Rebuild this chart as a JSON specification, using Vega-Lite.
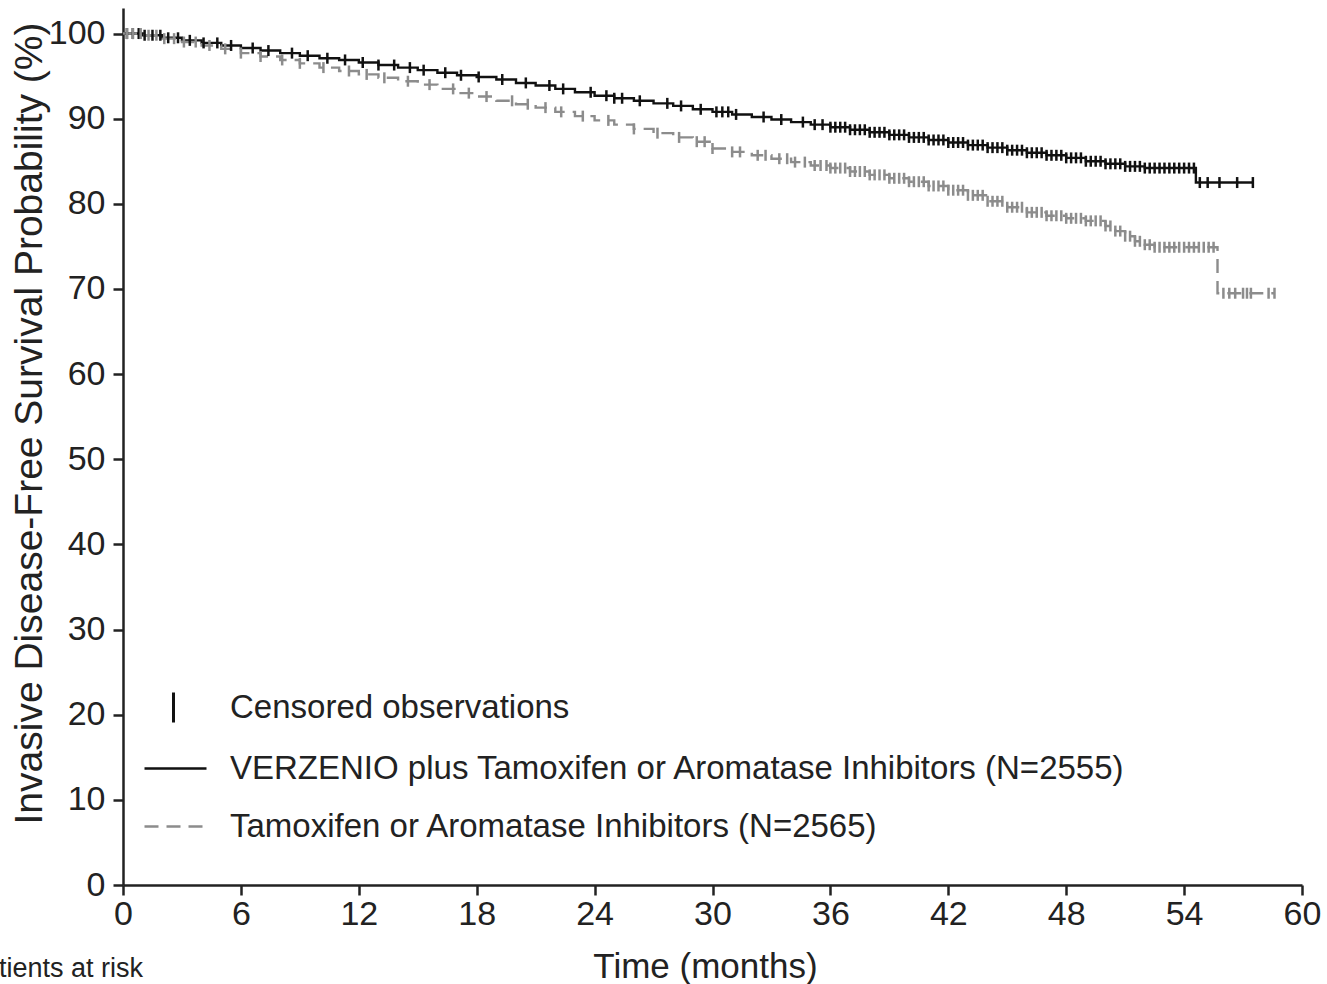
{
  "$schema": "https://vega.github.io/schema/vega-lite/v6.json",
  "width": 1179,
  "height": 877,
  "autosize": {"type": "none"},
  "padding": {"left": 123, "top": 8, "right": 25, "bottom": 99},
  "background": "white",
  "config": {
    "font": "Liberation Sans",
    "view": {"stroke": null},
    "axis": {
      "grid": false,
      "domainColor": "#222222",
      "domainWidth": 2.5,
      "tickColor": "#222222",
      "tickWidth": 2.5,
      "tickSize": 10,
      "labelColor": "#222222",
      "labelFontSize": 34,
      "labelOverlap": false,
      "labelFlush": false,
      "titleColor": "#222222",
      "titleFontWeight": "normal"
    }
  },
  "title": {
    "text": "Patients at risk",
    "orient": "bottom",
    "anchor": "start",
    "frame": "group",
    "dx": -157,
    "offset": -28,
    "fontSize": 27,
    "fontWeight": "normal",
    "color": "#222222"
  },
  "datasets": {
    "curve": [
      {"g": "A", "t": 0, "s": 100}, {"g": "A", "t": 1, "s": 99.8}, {"g": "A", "t": 2, "s": 99.5}, {"g": "A", "t": 3, "s": 99.2},
      {"g": "A", "t": 4, "s": 98.9}, {"g": "A", "t": 5, "s": 98.6}, {"g": "A", "t": 6, "s": 98.3}, {"g": "A", "t": 7, "s": 98.0},
      {"g": "A", "t": 8, "s": 97.7}, {"g": "A", "t": 9, "s": 97.4}, {"g": "A", "t": 10, "s": 97.1}, {"g": "A", "t": 11, "s": 96.9},
      {"g": "A", "t": 12, "s": 96.6}, {"g": "A", "t": 13, "s": 96.3}, {"g": "A", "t": 14, "s": 96.0}, {"g": "A", "t": 15, "s": 95.7},
      {"g": "A", "t": 16, "s": 95.4}, {"g": "A", "t": 17, "s": 95.1}, {"g": "A", "t": 18, "s": 94.9}, {"g": "A", "t": 19, "s": 94.6},
      {"g": "A", "t": 20, "s": 94.2}, {"g": "A", "t": 21, "s": 93.9}, {"g": "A", "t": 22, "s": 93.5}, {"g": "A", "t": 23, "s": 93.1},
      {"g": "A", "t": 24, "s": 92.7}, {"g": "A", "t": 25, "s": 92.4}, {"g": "A", "t": 26, "s": 92.1}, {"g": "A", "t": 27, "s": 91.8},
      {"g": "A", "t": 28, "s": 91.5}, {"g": "A", "t": 29, "s": 91.1}, {"g": "A", "t": 30, "s": 90.8}, {"g": "A", "t": 31, "s": 90.5},
      {"g": "A", "t": 32, "s": 90.2}, {"g": "A", "t": 33, "s": 89.9}, {"g": "A", "t": 34, "s": 89.6}, {"g": "A", "t": 35, "s": 89.3},
      {"g": "A", "t": 36, "s": 89.0}, {"g": "A", "t": 37, "s": 88.7}, {"g": "A", "t": 38, "s": 88.4}, {"g": "A", "t": 39, "s": 88.1},
      {"g": "A", "t": 40, "s": 87.8}, {"g": "A", "t": 41, "s": 87.5}, {"g": "A", "t": 42, "s": 87.2}, {"g": "A", "t": 43, "s": 86.9},
      {"g": "A", "t": 44, "s": 86.6}, {"g": "A", "t": 45, "s": 86.3}, {"g": "A", "t": 46, "s": 86.0}, {"g": "A", "t": 47, "s": 85.7},
      {"g": "A", "t": 48, "s": 85.4}, {"g": "A", "t": 49, "s": 85.0}, {"g": "A", "t": 50, "s": 84.7}, {"g": "A", "t": 51, "s": 84.4},
      {"g": "A", "t": 52, "s": 84.2}, {"g": "A", "t": 54.6, "s": 82.5}, {"g": "A", "t": 57.5, "s": 82.5},
      {"g": "B", "t": 0, "s": 100}, {"g": "B", "t": 1, "s": 99.8}, {"g": "B", "t": 2, "s": 99.4}, {"g": "B", "t": 3, "s": 99.0},
      {"g": "B", "t": 4, "s": 98.6}, {"g": "B", "t": 5, "s": 98.2}, {"g": "B", "t": 6, "s": 97.7}, {"g": "B", "t": 7, "s": 97.3},
      {"g": "B", "t": 8, "s": 96.9}, {"g": "B", "t": 9, "s": 96.5}, {"g": "B", "t": 10, "s": 96.0}, {"g": "B", "t": 11, "s": 95.6},
      {"g": "B", "t": 12, "s": 95.2}, {"g": "B", "t": 13, "s": 94.8}, {"g": "B", "t": 14, "s": 94.4}, {"g": "B", "t": 15, "s": 94.0},
      {"g": "B", "t": 16, "s": 93.5}, {"g": "B", "t": 17, "s": 93.0}, {"g": "B", "t": 18, "s": 92.6}, {"g": "B", "t": 19, "s": 92.1},
      {"g": "B", "t": 20, "s": 91.7}, {"g": "B", "t": 21, "s": 91.3}, {"g": "B", "t": 22, "s": 90.8}, {"g": "B", "t": 23, "s": 90.3},
      {"g": "B", "t": 24, "s": 89.8}, {"g": "B", "t": 25, "s": 89.3}, {"g": "B", "t": 26, "s": 88.8}, {"g": "B", "t": 27, "s": 88.3},
      {"g": "B", "t": 28, "s": 87.8}, {"g": "B", "t": 29, "s": 87.3}, {"g": "B", "t": 30, "s": 86.5}, {"g": "B", "t": 31, "s": 86.1},
      {"g": "B", "t": 32, "s": 85.7}, {"g": "B", "t": 33, "s": 85.3}, {"g": "B", "t": 34, "s": 84.9}, {"g": "B", "t": 35, "s": 84.5},
      {"g": "B", "t": 36, "s": 84.2}, {"g": "B", "t": 37, "s": 83.8}, {"g": "B", "t": 38, "s": 83.4}, {"g": "B", "t": 39, "s": 83.0},
      {"g": "B", "t": 40, "s": 82.6}, {"g": "B", "t": 41, "s": 82.1}, {"g": "B", "t": 42, "s": 81.6}, {"g": "B", "t": 43, "s": 81.0},
      {"g": "B", "t": 44, "s": 80.3}, {"g": "B", "t": 45, "s": 79.6}, {"g": "B", "t": 46, "s": 79.0}, {"g": "B", "t": 47, "s": 78.6},
      {"g": "B", "t": 48, "s": 78.3}, {"g": "B", "t": 49, "s": 78.0}, {"g": "B", "t": 50, "s": 77.4}, {"g": "B", "t": 50.5, "s": 76.8},
      {"g": "B", "t": 51, "s": 76.2}, {"g": "B", "t": 51.5, "s": 75.6}, {"g": "B", "t": 52, "s": 75.2}, {"g": "B", "t": 52.5, "s": 74.9},
      {"g": "B", "t": 55.7, "s": 69.5}, {"g": "B", "t": 58.6, "s": 69.5}
    ],
    "cens": [
      {"g": "A", "t": 0.2, "s": 100}, {"g": "A", "t": 0.5, "s": 100}, {"g": "A", "t": 0.8, "s": 100}, {"g": "A", "t": 1.1, "s": 99.8},
      {"g": "A", "t": 1.5, "s": 99.8}, {"g": "A", "t": 1.9, "s": 99.8}, {"g": "A", "t": 2.3, "s": 99.5}, {"g": "A", "t": 2.8, "s": 99.5},
      {"g": "A", "t": 3.4, "s": 99.2}, {"g": "A", "t": 4.1, "s": 98.9}, {"g": "A", "t": 4.8, "s": 98.9}, {"g": "A", "t": 5.5, "s": 98.6},
      {"g": "A", "t": 6.6, "s": 98.3}, {"g": "A", "t": 7.4, "s": 98.0}, {"g": "A", "t": 8.6, "s": 97.7}, {"g": "A", "t": 9.4, "s": 97.4},
      {"g": "A", "t": 10.4, "s": 97.1}, {"g": "A", "t": 11.3, "s": 96.9}, {"g": "A", "t": 12.2, "s": 96.6}, {"g": "A", "t": 13.0, "s": 96.3},
      {"g": "A", "t": 13.8, "s": 96.3}, {"g": "A", "t": 14.6, "s": 96.0}, {"g": "A", "t": 15.3, "s": 95.7}, {"g": "A", "t": 16.4, "s": 95.4},
      {"g": "A", "t": 17.2, "s": 95.1}, {"g": "A", "t": 18.1, "s": 94.9}, {"g": "A", "t": 19.3, "s": 94.6}, {"g": "A", "t": 20.5, "s": 94.2},
      {"g": "A", "t": 21.7, "s": 93.9}, {"g": "A", "t": 22.4, "s": 93.5}, {"g": "A", "t": 23.8, "s": 93.1}, {"g": "A", "t": 24.6, "s": 92.7},
      {"g": "A", "t": 25.0, "s": 92.4}, {"g": "A", "t": 25.4, "s": 92.4}, {"g": "A", "t": 26.3, "s": 92.1}, {"g": "A", "t": 27.7, "s": 91.8},
      {"g": "A", "t": 28.4, "s": 91.5}, {"g": "A", "t": 29.4, "s": 91.1}, {"g": "A", "t": 30.2, "s": 90.8}, {"g": "A", "t": 30.5, "s": 90.8},
      {"g": "A", "t": 30.8, "s": 90.8}, {"g": "A", "t": 31.2, "s": 90.5}, {"g": "A", "t": 32.6, "s": 90.2}, {"g": "A", "t": 33.5, "s": 89.9},
      {"g": "A", "t": 34.6, "s": 89.6}, {"g": "A", "t": 35.2, "s": 89.3}, {"g": "A", "t": 35.6, "s": 89.3},
      {"g": "A", "t": 36.0, "s": 89.0}, {"g": "A", "t": 36.25, "s": 89.0}, {"g": "A", "t": 36.5, "s": 89.0}, {"g": "A", "t": 36.75, "s": 89.0},
      {"g": "A", "t": 37.0, "s": 88.7}, {"g": "A", "t": 37.25, "s": 88.7}, {"g": "A", "t": 37.5, "s": 88.7}, {"g": "A", "t": 37.75, "s": 88.7},
      {"g": "A", "t": 38.0, "s": 88.4}, {"g": "A", "t": 38.25, "s": 88.4}, {"g": "A", "t": 38.5, "s": 88.4}, {"g": "A", "t": 38.75, "s": 88.4},
      {"g": "A", "t": 39.0, "s": 88.1}, {"g": "A", "t": 39.25, "s": 88.1}, {"g": "A", "t": 39.5, "s": 88.1}, {"g": "A", "t": 39.75, "s": 88.1},
      {"g": "A", "t": 40.0, "s": 87.8}, {"g": "A", "t": 40.25, "s": 87.8}, {"g": "A", "t": 40.5, "s": 87.8}, {"g": "A", "t": 40.75, "s": 87.8},
      {"g": "A", "t": 41.0, "s": 87.5}, {"g": "A", "t": 41.25, "s": 87.5}, {"g": "A", "t": 41.5, "s": 87.5}, {"g": "A", "t": 41.75, "s": 87.5},
      {"g": "A", "t": 42.0, "s": 87.2}, {"g": "A", "t": 42.25, "s": 87.2}, {"g": "A", "t": 42.5, "s": 87.2}, {"g": "A", "t": 42.75, "s": 87.2},
      {"g": "A", "t": 43.0, "s": 86.9}, {"g": "A", "t": 43.25, "s": 86.9}, {"g": "A", "t": 43.5, "s": 86.9}, {"g": "A", "t": 43.75, "s": 86.9},
      {"g": "A", "t": 44.0, "s": 86.6}, {"g": "A", "t": 44.25, "s": 86.6}, {"g": "A", "t": 44.5, "s": 86.6}, {"g": "A", "t": 44.75, "s": 86.6},
      {"g": "A", "t": 45.0, "s": 86.3}, {"g": "A", "t": 45.25, "s": 86.3}, {"g": "A", "t": 45.5, "s": 86.3}, {"g": "A", "t": 45.75, "s": 86.3},
      {"g": "A", "t": 46.0, "s": 86.0}, {"g": "A", "t": 46.25, "s": 86.0}, {"g": "A", "t": 46.5, "s": 86.0}, {"g": "A", "t": 46.75, "s": 86.0},
      {"g": "A", "t": 47.0, "s": 85.7}, {"g": "A", "t": 47.25, "s": 85.7}, {"g": "A", "t": 47.5, "s": 85.7}, {"g": "A", "t": 47.75, "s": 85.7},
      {"g": "A", "t": 48.0, "s": 85.4}, {"g": "A", "t": 48.25, "s": 85.4}, {"g": "A", "t": 48.5, "s": 85.4}, {"g": "A", "t": 48.75, "s": 85.4},
      {"g": "A", "t": 49.0, "s": 85.0}, {"g": "A", "t": 49.25, "s": 85.0}, {"g": "A", "t": 49.5, "s": 85.0}, {"g": "A", "t": 49.75, "s": 85.0},
      {"g": "A", "t": 50.0, "s": 84.7}, {"g": "A", "t": 50.25, "s": 84.7}, {"g": "A", "t": 50.5, "s": 84.7}, {"g": "A", "t": 50.75, "s": 84.7},
      {"g": "A", "t": 51.0, "s": 84.4}, {"g": "A", "t": 51.25, "s": 84.4}, {"g": "A", "t": 51.5, "s": 84.4}, {"g": "A", "t": 51.75, "s": 84.4},
      {"g": "A", "t": 52.0, "s": 84.2}, {"g": "A", "t": 52.25, "s": 84.2}, {"g": "A", "t": 52.5, "s": 84.2}, {"g": "A", "t": 52.75, "s": 84.2},
      {"g": "A", "t": 53.0, "s": 84.2}, {"g": "A", "t": 53.25, "s": 84.2}, {"g": "A", "t": 53.5, "s": 84.2}, {"g": "A", "t": 53.75, "s": 84.2},
      {"g": "A", "t": 54.0, "s": 84.2}, {"g": "A", "t": 54.25, "s": 84.2}, {"g": "A", "t": 54.5, "s": 84.2},
      {"g": "A", "t": 54.8, "s": 82.5}, {"g": "A", "t": 55.2, "s": 82.5}, {"g": "A", "t": 55.8, "s": 82.5}, {"g": "A", "t": 56.7, "s": 82.5},
      {"g": "A", "t": 57.5, "s": 82.5},
      {"g": "B", "t": 0.2, "s": 100}, {"g": "B", "t": 0.5, "s": 100}, {"g": "B", "t": 0.9, "s": 100}, {"g": "B", "t": 1.3, "s": 99.8},
      {"g": "B", "t": 1.7, "s": 99.8}, {"g": "B", "t": 2.1, "s": 99.4}, {"g": "B", "t": 2.6, "s": 99.4}, {"g": "B", "t": 3.1, "s": 99.0},
      {"g": "B", "t": 3.7, "s": 99.0}, {"g": "B", "t": 4.4, "s": 98.6}, {"g": "B", "t": 5.2, "s": 98.2}, {"g": "B", "t": 6.0, "s": 97.7},
      {"g": "B", "t": 7.0, "s": 97.3}, {"g": "B", "t": 8.1, "s": 96.9}, {"g": "B", "t": 9.0, "s": 96.5}, {"g": "B", "t": 10.2, "s": 96.0},
      {"g": "B", "t": 11.5, "s": 95.6}, {"g": "B", "t": 12.4, "s": 95.2}, {"g": "B", "t": 13.3, "s": 94.8}, {"g": "B", "t": 14.5, "s": 94.4},
      {"g": "B", "t": 15.6, "s": 94.0}, {"g": "B", "t": 16.8, "s": 93.5}, {"g": "B", "t": 17.6, "s": 93.0}, {"g": "B", "t": 18.5, "s": 92.6},
      {"g": "B", "t": 19.8, "s": 92.1}, {"g": "B", "t": 20.6, "s": 91.7}, {"g": "B", "t": 21.5, "s": 91.3}, {"g": "B", "t": 22.3, "s": 90.8},
      {"g": "B", "t": 23.4, "s": 90.3}, {"g": "B", "t": 24.7, "s": 89.8}, {"g": "B", "t": 26.0, "s": 88.8}, {"g": "B", "t": 27.2, "s": 88.3},
      {"g": "B", "t": 28.3, "s": 87.8}, {"g": "B", "t": 29.2, "s": 87.3}, {"g": "B", "t": 29.6, "s": 87.3}, {"g": "B", "t": 30.0, "s": 86.5},
      {"g": "B", "t": 31.0, "s": 86.1}, {"g": "B", "t": 31.4, "s": 86.1}, {"g": "B", "t": 32.3, "s": 85.7}, {"g": "B", "t": 32.7, "s": 85.7},
      {"g": "B", "t": 33.4, "s": 85.3}, {"g": "B", "t": 33.8, "s": 85.3}, {"g": "B", "t": 34.2, "s": 84.9}, {"g": "B", "t": 34.7, "s": 84.9},
      {"g": "B", "t": 35.2, "s": 84.5}, {"g": "B", "t": 35.5, "s": 84.5}, {"g": "B", "t": 35.8, "s": 84.5},
      {"g": "B", "t": 36.0, "s": 84.2}, {"g": "B", "t": 36.25, "s": 84.2}, {"g": "B", "t": 36.5, "s": 84.2}, {"g": "B", "t": 36.75, "s": 84.2},
      {"g": "B", "t": 37.0, "s": 83.8}, {"g": "B", "t": 37.25, "s": 83.8}, {"g": "B", "t": 37.5, "s": 83.8}, {"g": "B", "t": 37.75, "s": 83.8},
      {"g": "B", "t": 38.0, "s": 83.4}, {"g": "B", "t": 38.25, "s": 83.4}, {"g": "B", "t": 38.5, "s": 83.4}, {"g": "B", "t": 38.75, "s": 83.4},
      {"g": "B", "t": 39.0, "s": 83.0}, {"g": "B", "t": 39.25, "s": 83.0}, {"g": "B", "t": 39.5, "s": 83.0}, {"g": "B", "t": 39.75, "s": 83.0},
      {"g": "B", "t": 40.0, "s": 82.6}, {"g": "B", "t": 40.25, "s": 82.6}, {"g": "B", "t": 40.5, "s": 82.6}, {"g": "B", "t": 40.75, "s": 82.6},
      {"g": "B", "t": 41.0, "s": 82.1}, {"g": "B", "t": 41.25, "s": 82.1}, {"g": "B", "t": 41.5, "s": 82.1}, {"g": "B", "t": 41.75, "s": 82.1},
      {"g": "B", "t": 42.0, "s": 81.6}, {"g": "B", "t": 42.25, "s": 81.6}, {"g": "B", "t": 42.5, "s": 81.6}, {"g": "B", "t": 42.75, "s": 81.6},
      {"g": "B", "t": 43.0, "s": 81.0}, {"g": "B", "t": 43.25, "s": 81.0}, {"g": "B", "t": 43.5, "s": 81.0}, {"g": "B", "t": 43.75, "s": 81.0},
      {"g": "B", "t": 44.0, "s": 80.3}, {"g": "B", "t": 44.25, "s": 80.3}, {"g": "B", "t": 44.5, "s": 80.3}, {"g": "B", "t": 44.75, "s": 80.3},
      {"g": "B", "t": 45.0, "s": 79.6}, {"g": "B", "t": 45.25, "s": 79.6}, {"g": "B", "t": 45.5, "s": 79.6}, {"g": "B", "t": 45.75, "s": 79.6},
      {"g": "B", "t": 46.0, "s": 79.0}, {"g": "B", "t": 46.25, "s": 79.0}, {"g": "B", "t": 46.5, "s": 79.0}, {"g": "B", "t": 46.75, "s": 79.0},
      {"g": "B", "t": 47.0, "s": 78.6}, {"g": "B", "t": 47.25, "s": 78.6}, {"g": "B", "t": 47.5, "s": 78.6}, {"g": "B", "t": 47.75, "s": 78.6},
      {"g": "B", "t": 48.0, "s": 78.3}, {"g": "B", "t": 48.25, "s": 78.3}, {"g": "B", "t": 48.5, "s": 78.3}, {"g": "B", "t": 48.75, "s": 78.3},
      {"g": "B", "t": 49.0, "s": 78.0}, {"g": "B", "t": 49.25, "s": 78.0}, {"g": "B", "t": 49.5, "s": 78.0}, {"g": "B", "t": 49.75, "s": 78.0},
      {"g": "B", "t": 50.0, "s": 77.4}, {"g": "B", "t": 50.25, "s": 77.4}, {"g": "B", "t": 50.5, "s": 76.8}, {"g": "B", "t": 50.75, "s": 76.8},
      {"g": "B", "t": 51.0, "s": 76.2}, {"g": "B", "t": 51.25, "s": 76.2}, {"g": "B", "t": 51.5, "s": 75.6}, {"g": "B", "t": 51.75, "s": 75.6},
      {"g": "B", "t": 52.0, "s": 75.2}, {"g": "B", "t": 52.25, "s": 75.2}, {"g": "B", "t": 52.5, "s": 74.9}, {"g": "B", "t": 52.75, "s": 74.9},
      {"g": "B", "t": 53.0, "s": 74.9}, {"g": "B", "t": 53.25, "s": 74.9}, {"g": "B", "t": 53.5, "s": 74.9}, {"g": "B", "t": 53.75, "s": 74.9},
      {"g": "B", "t": 54.0, "s": 74.9}, {"g": "B", "t": 54.25, "s": 74.9}, {"g": "B", "t": 54.5, "s": 74.9}, {"g": "B", "t": 54.75, "s": 74.9},
      {"g": "B", "t": 55.0, "s": 74.9}, {"g": "B", "t": 55.25, "s": 74.9}, {"g": "B", "t": 55.5, "s": 74.9},
      {"g": "B", "t": 56.0, "s": 69.5}, {"g": "B", "t": 56.3, "s": 69.5}, {"g": "B", "t": 56.6, "s": 69.5}, {"g": "B", "t": 57.0, "s": 69.5},
      {"g": "B", "t": 57.2, "s": 69.5}, {"g": "B", "t": 57.4, "s": 69.5}, {"g": "B", "t": 58.3, "s": 69.5}, {"g": "B", "t": 58.6, "s": 69.5}
    ]
  },
  "layer": [
    {
      "data": {"name": "curve"},
      "mark": {"type": "line", "interpolate": "step-after", "strokeWidth": 2.4},
      "encoding": {
        "x": {
          "field": "t", "type": "quantitative",
          "scale": {"domain": [0, 60], "nice": false},
          "axis": {"values": [0, 6, 12, 18, 24, 30, 36, 42, 48, 54, 60], "title": "Time (months)", "titleFontSize": 35, "titleX": 582, "titleY": 92, "titleBaseline": "alphabetic", "titleAlign": "center", "labelPadding": 2}
        },
        "y": {
          "field": "s", "type": "quantitative",
          "scale": {"domain": [0, 103], "nice": false, "zero": false},
          "axis": {"values": [0, 10, 20, 30, 40, 50, 60, 70, 80, 90, 100], "title": "Invasive Disease-Free Survival Probability (%)", "titleFontSize": 39, "titleX": -94, "titleY": 415, "titleAngle": -90, "titleBaseline": "middle", "titleAlign": "center", "labelPadding": 8}
        },
        "color": {
          "field": "g", "type": "nominal",
          "scale": {"domain": ["A", "B"], "range": ["#111111", "#8c8c8c"]},
          "legend": {"orient": "none", "legendX": 20, "legendY": 728, "title": null, "padding": 0, "labelFontSize": 33, "labelColor": "#222222", "symbolType": "stroke", "symbolSize": 3844, "symbolStrokeWidth": 2.5, "labelOffset": 22, "rowPadding": 8, "labelLimit": 1200, "labelExpr": "datum.value === 'A' ? 'VERZENIO plus Tamoxifen or Aromatase Inhibitors (N=2555)' : 'Tamoxifen or Aromatase Inhibitors (N=2565)'"}
        },
        "strokeDash": {
          "field": "g", "type": "nominal",
          "scale": {"domain": ["A", "B"], "range": [[1, 0], [14, 8]]},
          "legend": {"orient": "none", "legendX": 20, "legendY": 728, "title": null, "padding": 0, "labelFontSize": 33, "labelColor": "#222222", "symbolType": "stroke", "symbolSize": 3844, "symbolStrokeWidth": 2.5, "labelOffset": 22, "rowPadding": 8, "labelLimit": 1200, "labelExpr": "datum.value === 'A' ? 'VERZENIO plus Tamoxifen or Aromatase Inhibitors (N=2555)' : 'Tamoxifen or Aromatase Inhibitors (N=2565)'"}
        }
      }
    },
    {
      "data": {"name": "cens"},
      "transform": [{"filter": "datum.g === 'A'"}],
      "mark": {"type": "point", "filled": false, "size": 121, "strokeWidth": 2.5, "color": "#111111", "opacity": 1},
      "encoding": {
        "x": {"field": "t", "type": "quantitative"},
        "y": {"field": "s", "type": "quantitative"},
        "shape": {
          "datum": "Censored observations", "type": "nominal",
          "scale": {"domain": ["Censored observations"], "range": ["M0,-1L0,1"]},
          "legend": {"orient": "none", "legendX": 34, "legendY": 683, "title": null, "padding": 0, "labelFontSize": 33, "labelColor": "#222222", "symbolSize": 900, "symbolStrokeWidth": 3, "symbolStrokeColor": "#111111", "symbolFillColor": "transparent", "labelOffset": 40, "labelLimit": 1200}
        }
      }
    },
    {
      "data": {"name": "cens"},
      "transform": [{"filter": "datum.g === 'B'"}],
      "mark": {"type": "point", "shape": "M0,-1L0,1", "filled": false, "size": 121, "strokeWidth": 2.5, "color": "#8c8c8c", "opacity": 1},
      "encoding": {
        "x": {"field": "t", "type": "quantitative"},
        "y": {"field": "s", "type": "quantitative"}
      }
    }
  ]
}
